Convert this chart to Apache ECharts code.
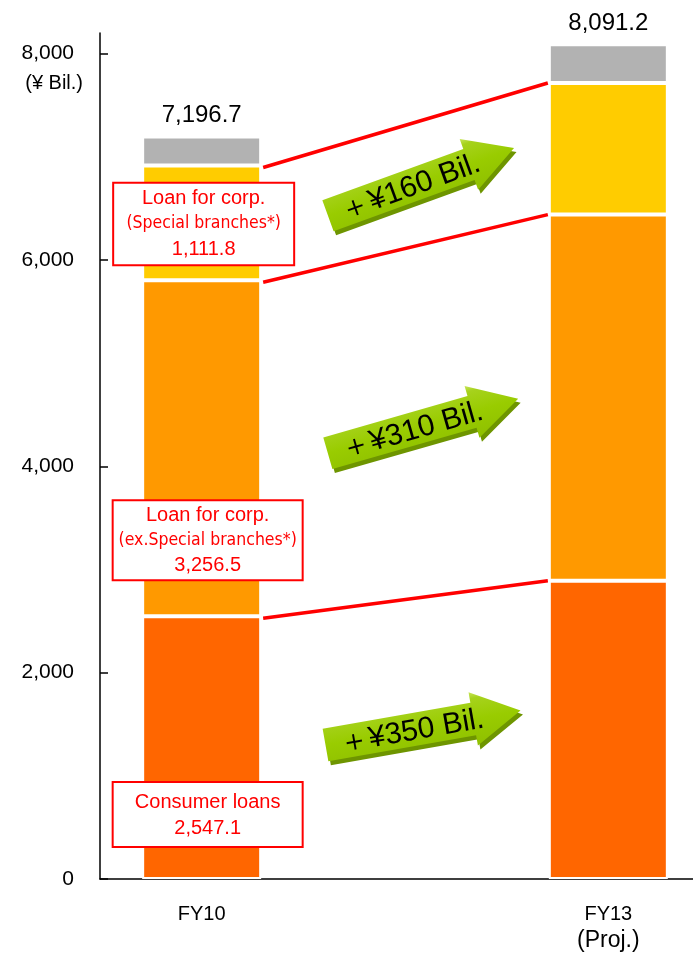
<!DOCTYPE html>
<html><head><meta charset="utf-8">
<script src="https://cdn.jsdelivr.net/npm/echarts@6/dist/echarts.min.js"></script>
<style>html,body{margin:0;padding:0;background:#fff;overflow:hidden}#c{width:710px;height:958px}</style>
</head><body><div id="c"></div>
<script>
// ---- data ----
const categories = ['FY10', '', 'FY13'];
const consumerLoans = [2547.1, null, 2890];
const corpExSpecial = [3256.5, null, 3550];
const corpSpecial = [1111.8, null, 1275];
const otherLoans = [281.3, null, 376.2];
const totals = [7196.7, null, 8091.2];
const yTicks = [0, 2000, 4000, 6000, 8000];
const increments = ['＋¥350 Bil.', '＋¥310 Bil.', '＋¥160 Bil.'];
const boxTitles = ['Consumer loans', 'Loan for corp.', 'Loan for corp.'];
const boxSubs = ['', '(ex.Special branches*)', '(Special branches*)'];
const boxValues = ['2,547.1', '3,256.5', '1,111.8'];
const yUnit = '(¥ Bil.)';
const projNote = '(Proj.)';

// ---- styles ----
const FONT = '"Liberation Sans", Arial, sans-serif';
const NARROW = '"Liberation Sans Narrow", "DejaVu Sans Condensed", sans-serif';
const BAR_W = 119;
const RED = '#ff0000';

const fmt = v => v.toLocaleString('en-US', {minimumFractionDigits: 1, maximumFractionDigits: 1});

const segs = [consumerLoans, corpExSpecial, corpSpecial];
function cum(k, col) { let s = 0; for (let j = 0; j <= k; j++) s += segs[j][col]; return s; }

// box label layout (style)
const boxLayout = [
  {offset: [6, 67], width: 188, padding: [6, 0, 5, 0], lh: 26},
  {offset: [6, 92], width: 188, padding: [2, 0, 1, 0], lh: 25},
  {offset: [2, 1], width: 179, padding: [2, 0, 2, 0], lh: 25.5}
];
function boxLabel(i) {
  const L = boxLayout[i];
  const lines = ['{a|' + boxTitles[i] + '}'];
  if (boxSubs[i]) lines.push('{b|' + boxSubs[i] + '}');
  lines.push('{a|' + boxValues[i] + '}');
  return {
    show: true, position: 'inside', offset: L.offset,
    formatter: lines.join('\n'),
    backgroundColor: '#fff', borderColor: RED, borderWidth: 2,
    padding: L.padding, width: L.width, align: 'center', verticalAlign: 'middle',
    textBorderWidth: 0,
    rich: {
      a: {fontSize: 20, color: RED, fontFamily: FONT, lineHeight: L.lh, align: 'center', textBorderWidth: 0},
      b: {fontSize: 17.5, color: RED, fontFamily: NARROW, lineHeight: L.lh, align: 'center', textBorderWidth: 0}
    }
  };
}
function segData(arr, i) {
  return arr.map((v, j) => j === 0 ? {value: v, label: boxLabel(i)} : v);
}
const segColors = ['#FF6600', '#FF9900', '#FFCC00', '#B2B2B2'];
const barBase = {type: 'bar', stack: 'loans', barWidth: BAR_W,
  itemStyle: {borderColor: '#fff', borderWidth: 2}};

// connecting red lines (boundaries between segments)
const boundaryData = [0, 1, 2].map(k => [0, cum(k, 0), cum(k, 2)]);
// arrows anchored at average of segment midpoints
const arrowStyle = [
  {dx: 18, dy: -11, angle: 10},
  {dx: 18, dy: 3, angle: 16},
  {dx: 16, dy: -4, angle: 20}
];
const arrowData = [0, 1, 2].map(k => {
  const m10 = cum(k, 0) - segs[k][0] / 2;
  const m13 = cum(k, 2) - segs[k][2] / 2;
  return [1, (m10 + m13) / 2, k];
});
const ARROW_PTS = [[-99, -16.5], [51, -16.5], [51, -27], [99, 0], [51, 27], [51, 16.5], [-99, 16.5]];

const chart = echarts.init(document.getElementById('c'), null, {renderer: 'canvas'});
chart.setOption({
  animation: false,
  backgroundColor: '#fff',
  grid: {left: 100, top: 33, bottom: 79, right: 0, containLabel: false},
  xAxis: {
    type: 'category', data: categories,
    axisLine: {lineStyle: {color: '#000', width: 1.5}},
    axisTick: {show: false},
    axisLabel: {
      interval: 0, margin: 25, fontSize: 20, lineHeight: 20, color: '#000', fontFamily: FONT,
      formatter: (v, i) => i === 2 ? v + '\n{p|' + projNote + '}' : v,
      rich: {p: {fontSize: 23, lineHeight: 34, color: '#000', fontFamily: FONT}}
    }
  },
  yAxis: {
    type: 'value', min: 0, max: 8200, interval: 2000,
    axisLine: {show: true, lineStyle: {color: '#000', width: 1.5}},
    axisTick: {show: true, inside: true, length: 8, customValues: yTicks, lineStyle: {color: '#000', width: 1.5}},
    axisLabel: {customValues: yTicks, formatter: v => v.toLocaleString('en-US'),
      fontSize: 21, color: '#000', margin: 26, fontFamily: FONT},
    splitLine: {show: false},
    name: yUnit, nameLocation: 'end', nameGap: -60,
    nameTextStyle: {fontSize: 20, color: '#000', fontFamily: FONT, align: 'right', padding: [0, 17, 0, 0]}
  },
  series: [
    Object.assign({}, barBase, {name: 'Consumer loans', data: segData(consumerLoans, 0), itemStyle: Object.assign({}, barBase.itemStyle, {color: segColors[0]})}),
    Object.assign({}, barBase, {name: 'Loan for corp. (ex.Special branches*)', data: segData(corpExSpecial, 1), itemStyle: Object.assign({}, barBase.itemStyle, {color: segColors[1]})}),
    Object.assign({}, barBase, {name: 'Loan for corp. (Special branches*)', data: segData(corpSpecial, 2), itemStyle: Object.assign({}, barBase.itemStyle, {color: segColors[2]})}),
    Object.assign({}, barBase, {name: 'Other', data: otherLoans, itemStyle: Object.assign({}, barBase.itemStyle, {color: segColors[3]}),
      label: {show: true, position: 'top', distance: 9, fontSize: 24, color: '#000', fontFamily: FONT,
        formatter: p => totals[p.dataIndex] == null ? '' : fmt(totals[p.dataIndex])}}),
    {
      type: 'custom', name: 'links', data: boundaryData, encode: {x: 0, y: 1}, z: 3,
      renderItem: (params, api) => {
        const p0 = api.coord([0, api.value(1)]);
        const p2 = api.coord([2, api.value(2)]);
        return {type: 'line', shape: {x1: p0[0] + BAR_W / 2 + 2, y1: p0[1] + 2, x2: p2[0] - BAR_W / 2 - 1, y2: p2[1]},
          style: {stroke: RED, lineWidth: 3.5}};
      }
    },
    {
      type: 'custom', name: 'arrows', data: arrowData, encode: {x: 0, y: 1}, z: 4,
      renderItem: (params, api) => {
        const k = api.value(2);
        const st = arrowStyle[k];
        const c = api.coord([api.value(0), api.value(1)]);
        const x = c[0] + st.dx, y = c[1] + st.dy;
        const rot = st.angle * Math.PI / 180;
        const grad = new echarts.graphic.LinearGradient(0, 0, 0, 1, [
          {offset: 0, color: '#C8E55A'}, {offset: 0.12, color: '#A6D21C'},
          {offset: 0.5, color: '#99CC00'}, {offset: 1, color: '#8FC000'}]);
        return {type: 'group', children: [
          {type: 'polygon', x: x + 2.5, y: y + 4, rotation: rot, shape: {points: ARROW_PTS}, style: {fill: '#6E9500'}},
          {type: 'polygon', x: x, y: y, rotation: rot, shape: {points: ARROW_PTS}, style: {fill: grad}},
          {type: 'text', x: x, y: y, rotation: rot,
            style: {text: increments[k], x: -12, y: 2, align: 'center', verticalAlign: 'middle',
              font: 'normal 30px ' + FONT, fill: '#000'}}
        ]};
      }
    }
  ]
});
</script></body></html>
